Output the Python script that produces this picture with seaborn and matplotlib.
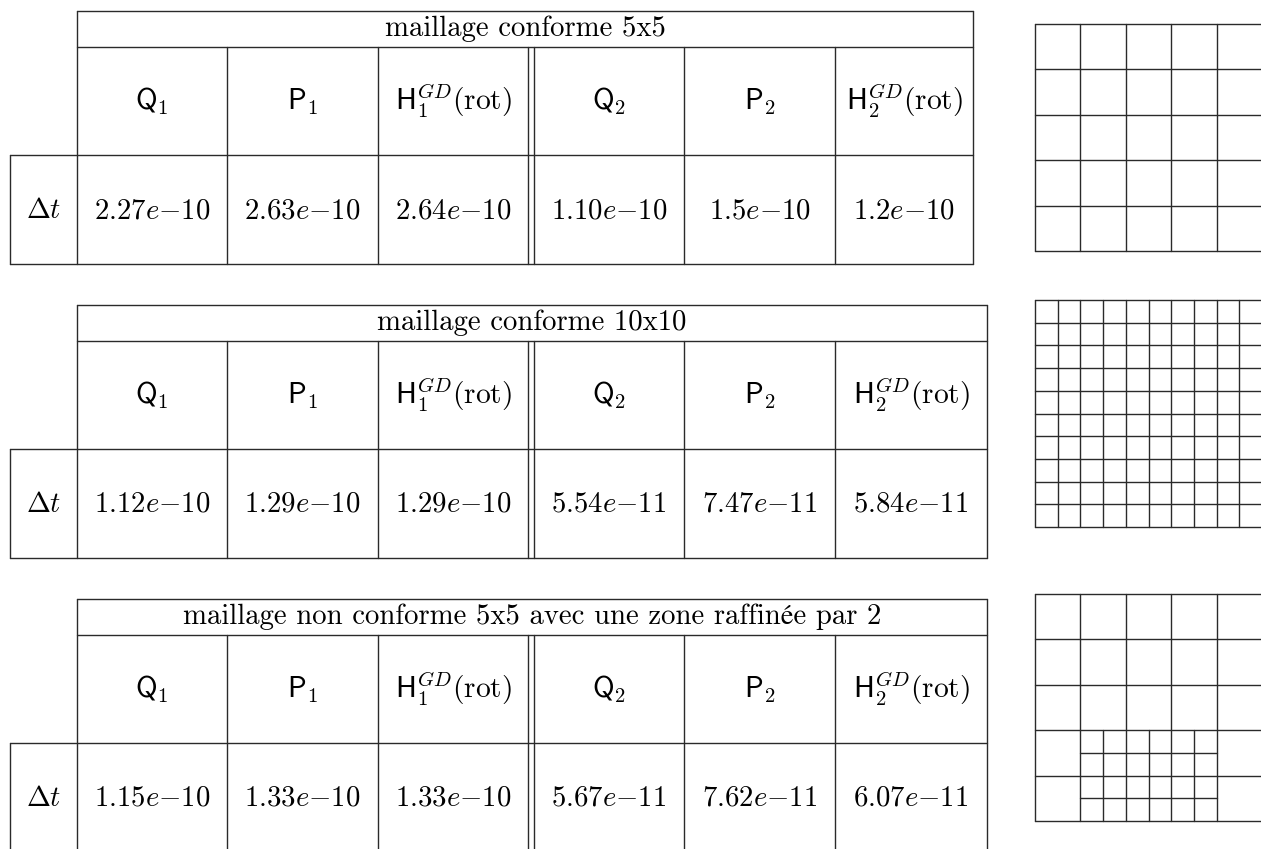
import pandas as pd
import matplotlib
matplotlib.use('Agg')
import matplotlib.pyplot as plt
import seaborn as sns

# Table contents
titles = ['maillage conforme 5x5',
          'maillage conforme 10x10',
          'maillage non conforme 5x5 avec une zone raffinée par 2']
elements = [r'$\mathsf{Q}_1$', r'$\mathsf{P}_1$', r'$\mathsf{H}_1^{GD}(\mathrm{rot})$',
            r'$\mathsf{Q}_2$', r'$\mathsf{P}_2$', r'$\mathsf{H}_2^{GD}(\mathrm{rot})$']
row_label = r'$\Delta t$'
dt_5x5 = ['2.27e-10', '2.63e-10', '2.64e-10', '1.10e-10', '1.5e-10', '1.2e-10']
dt_10x10 = ['1.12e-10', '1.29e-10', '1.29e-10', '5.54e-11', '7.47e-11', '5.84e-11']
dt_refined = ['1.15e-10', '1.33e-10', '1.33e-10', '5.67e-11', '7.62e-11', '6.07e-11']

# Meshes, in cells
mesh_sizes = [5, 10, 5]
refined_x = [1, 4]
refined_y = [0, 2]

sns.set_theme(style='white')
plt.rcParams['mathtext.fontset'] = 'cm'
roman = ['cmr10', 'STIXGeneral']
line_color = '#2a2a2a'
font_size = 20.7


def draw_lines(ax, segments):
    # Each segment is (x0, y0, x1, y1), seaborn draws one line per id
    rows = []
    for i, (x0, y0, x1, y1) in enumerate(segments):
        rows.append({'x': x0, 'y': y0, 'seg': i})
        rows.append({'x': x1, 'y': y1, 'seg': i})
    df = pd.DataFrame(rows)
    sns.lineplot(data=df, x='x', y='y', units='seg', estimator=None, sort=False,
                 color=line_color, linewidth=1.0, legend=False, ax=ax)
    for line in ax.lines:
        line.set_clip_on(False)


def draw_table(ax, top, right, title, values, closed=True):
    head = top + 36
    mid = top + 144
    bottom = top + 253
    left = 10
    first = 77
    cols = [227, 378, 528, 534, 684, 835]
    end = bottom if closed else 849
    segs = [(first, top, right, top), (first, head, right, head), (left, mid, right, mid),
            (left, mid, left, end), (first, top, first, end), (right, top, right, end)]
    segs += [(c, head, c, end) for c in cols]
    if closed:
        segs.append((left, bottom, right, bottom))
    draw_lines(ax, segs)

    centers = [152, 302.5, 453, 609, 759.5, (835 + right) / 2]
    ax.text((first + right) / 2, top + 24.5, title, family=roman, fontsize=font_size,
            ha='center', va='baseline', color='black')
    ax.text(43.5, mid + 63, row_label, fontsize=font_size, ha='center', va='baseline', color='black')
    for c, name, val in zip(centers, elements, values):
        ax.text(c, mid - 45, name, fontsize=font_size + 0.5, ha='center', va='baseline', color='black')
        mant, exp = val.split('e-')
        ax.text(c, mid + 63, f'${mant}e{{-}}{exp}$', fontsize=font_size,
                ha='center', va='baseline', color='black')


def draw_mesh(fig, top, n, refined=False):
    # Mesh axes in cell units, the right border falls on the edge of the image
    width, height = 1261, 849
    ax = fig.add_axes([1035 / width, 1 - (top + 227) / height, 227 / width, 227 / height])
    step = 5 / n
    segs = []
    for i in range(n + 1):
        segs.append((i * step, 0, i * step, 5))
        segs.append((0, i * step, 5, i * step))
    if refined:
        for x in [refined_x[0] + 0.5 + k for k in range(refined_x[1] - refined_x[0])]:
            segs.append((x, refined_y[0], x, refined_y[1]))
        for y in [refined_y[0] + 0.5 + k for k in range(refined_y[1] - refined_y[0])]:
            segs.append((refined_x[0], y, refined_x[1], y))
    draw_lines(ax, segs)
    ax.set_xlim(0, 5)
    ax.set_ylim(0, 5)
    ax.axis('off')


fig = plt.figure(figsize=(12.61, 8.49), dpi=100)
ax = fig.add_axes([0, 0, 1, 1])

draw_table(ax, 11, 973, titles[0], dt_5x5)
draw_table(ax, 305, 987, titles[1], dt_10x10)
draw_table(ax, 599, 987, titles[2], dt_refined, closed=False)

ax.set_xlim(0, 1261)
ax.set_ylim(849, 0)
ax.axis('off')

draw_mesh(fig, 24, mesh_sizes[0])
draw_mesh(fig, 300, mesh_sizes[1])
draw_mesh(fig, 594, mesh_sizes[2], refined=True)

plt.savefig('out.png', dpi=100)
